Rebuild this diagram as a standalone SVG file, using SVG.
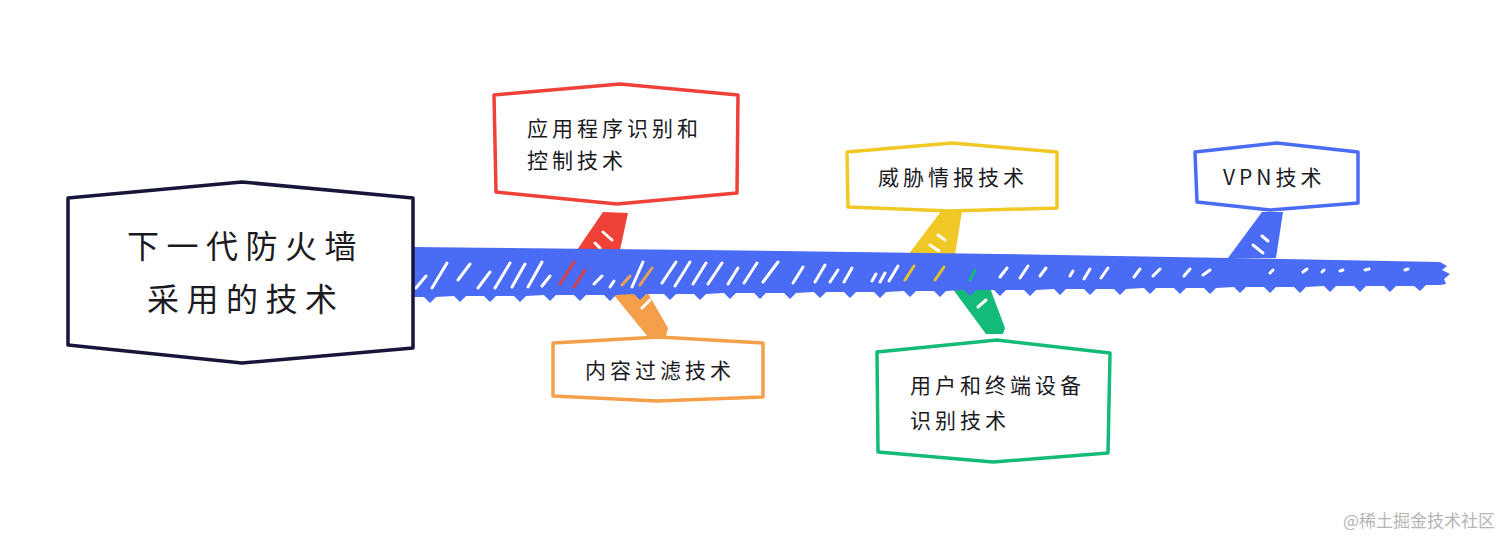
<svg xmlns="http://www.w3.org/2000/svg" width="1512" height="547" viewBox="0 0 1512 547">
<style>
.box{fill:#ffffff;stroke-width:3.5;stroke-linejoin:round;stroke-linecap:round}
.t{font-family:"Noto Sans CJK SC","Noto Sans",sans-serif;fill:#1b1b1f;font-size:21px;letter-spacing:4px}
.big{font-size:32px;letter-spacing:7.5px}
.h{stroke:#ffffff;stroke-width:3;stroke-linecap:round;fill:none}
.wm{font-family:"Noto Sans CJK SC","Noto Sans",sans-serif;fill:#b5b5b5;font-size:17px}
</style>
<rect width="1512" height="547" fill="#ffffff"/>
<g id="connectors">
  <polygon points="603,212 628,213 620,250 590,290 550,290 577,250" fill="#ef4137"/>
  <polygon points="608,288 645,288 668,328 666,336 648,337" fill="#f4a04b"/>
  <polygon points="942,210 962,211 955,255 930,290 895,290 908,255" fill="#f1c927"/>
  <polygon points="952,288 990,288 1005,328 1003,334 986,334" fill="#14bb78"/>
  <polygon points="1262,212 1283,212 1276,258 1228,258" fill="#4a6cf4"/>
  <g class="h" stroke-width="2.5">
    <path d="M603,232 L612,240"/><path d="M595,243 L600,248"/>
    <path d="M642,308 L650,300"/>
    <path d="M938,235 L945,240"/><path d="M930,245 L939,251"/>
    <path d="M978,307 L986,300"/>
    <path d="M1262,236 L1268,241"/><path d="M1253,245 L1263,253"/>
  </g>
  <path id="bar" fill="#4a6cf4" d="M410,247 L700,250 L1000,254 L1230,258 L1440,262 L1447,266 L1442,270 L1450,274 L1444,279 L1446,284 L1440,285
  L1426,285 L1420,291 L1414,286 L1396,286 L1390,292 L1384,286 L1366,286 L1360,292 L1354,286 L1336,286 L1330,292 L1324,286
  L1306,287 L1300,293 L1294,287 L1276,287 L1270,293 L1264,287 L1246,287 L1240,293 L1234,287 L1216,288 L1210,294 L1204,288
  L1186,288 L1180,294 L1174,288 L1156,288 L1150,294 L1144,288 L1126,289 L1120,295 L1114,289 L1096,289 L1090,295 L1084,289
  L1066,289 L1060,295 L1054,289 L1036,290 L1030,296 L1024,290 L1006,290 L1000,296 L994,290 L976,290 L970,296 L964,290
  L946,291 L940,297 L934,291 L916,291 L910,297 L904,291 L886,292 L880,298 L874,292 L856,292 L850,298 L844,292
  L826,292 L820,298 L814,292 L796,293 L790,299 L784,293 L766,293 L760,299 L754,293 L736,293 L730,299 L724,293
  L706,294 L700,300 L694,294 L676,294 L670,300 L664,294 L646,294 L640,300 L634,294 L616,295 L610,301 L604,295
  L586,295 L580,301 L574,295 L556,295 L550,301 L544,295 L526,296 L520,302 L514,296 L496,296 L490,302 L484,296
  L466,296 L460,302 L454,296 L436,297 L430,303 L424,297 L410,297 Z"/>
  <g class="h">
    <path d="M416,288 L426,276"/><path d="M432,288 L447,263"/><path d="M458,280 L470,264"/><path d="M478,288 L490,272"/>
    <path d="M495,288 L510,263"/><path d="M512,287 L525,264"/><path d="M528,287 L542,262"/><path d="M542,286 L550,276"/>
    <path d="M594,284 L602,276"/><path d="M610,287 L614,281"/><path d="M632,287 L643,262"/>
    <path d="M662,283 L676,262"/><path d="M675,286 L690,262"/><path d="M693,284 L706,263"/><path d="M708,284 L722,263"/>
    <path d="M728,284 L738,268"/><path d="M744,283 L757,263"/><path d="M763,282 L778,262"/><path d="M793,283 L803,267"/>
    <path d="M815,282 L825,265"/><path d="M830,282 L838,270"/><path d="M844,282 L852,268"/><path d="M872,281 L876,274"/>
    <path d="M880,282 L885,273"/><path d="M889,281 L898,266"/><path d="M1000,277 L1007,268"/><path d="M1020,278 L1028,266"/>
    <path d="M1040,276 L1046,268"/><path d="M1070,276 L1073,271"/><path d="M1084,279 L1090,269"/><path d="M1101,278 L1108,268"/>
    <path d="M1134,277 L1140,269"/><path d="M1153,276 L1160,269"/><path d="M1184,276 L1190,269"/><path d="M1203,275 L1210,270"/>
    <path d="M1270,273 L1273,270"/><path d="M1303,272 L1307,269"/><path d="M1322,272 L1324,270"/><path d="M1340,271 L1343,270"/><path d="M1365,270 L1369,269"/><path d="M1405,270 L1408,269"/>
  </g>
  <g fill="none" stroke-width="3" stroke-linecap="round">
    <path d="M560,284 L574,262" stroke="#d6404a"/><path d="M574,287 L585,270" stroke="#d6404a"/>
    <path d="M622,285 L630,276" stroke="#f0a050"/><path d="M640,285 L652,268" stroke="#f0a050"/>
    <path d="M905,280 L914,266" stroke="#e7c12d"/><path d="M935,280 L944,267" stroke="#e7c12d"/>
    <path d="M970,280 L975,270" stroke="#14b87a"/>
  </g>
</g>
<g id="main">
  <path class="box" stroke="#17163a" stroke-width="4.5" d="M68,198 L242,182 L413,198 L413,348 L242,363 L68,345 Z"/>
  <text class="t big" x="127" y="258">下一代防火墙</text>
  <text class="t big" x="147" y="311">采用的技术</text>
</g>
<g id="app">
  <path class="box" stroke="#ef4137" d="M494,95 L620,84 L738,95 L737,193 L617,204 L496,192 Z"/>
  <text class="t" x="527" y="136">应用程序识别和</text>
  <text class="t" x="527" y="168">控制技术</text>
</g>
<g id="content">
  <path class="box" stroke="#f4a04b" d="M553,343 L659,337 L763,343 L763,397 L657,401 L553,396 Z"/>
  <text class="t" x="585" y="378">内容过滤技术</text>
</g>
<g id="threat">
  <path class="box" stroke="#f1c927" d="M847,152 L952,143 L1057,152 L1057,208 L950,211 L848,207 Z"/>
  <text class="t" x="878" y="185">威胁情报技术</text>
</g>
<g id="vpn">
  <path class="box" stroke="#4a6cf4" d="M1195,152 L1277,143 L1358,152 L1358,203 L1270,210 L1197,202 Z"/>
  <text class="t" x="1223" y="185">VPN技术</text>
</g>
<g id="user">
  <path class="box" stroke="#14bb78" d="M877,352 L997,340 L1110,353 L1108,453 L993,462 L878,452 Z"/>
  <text class="t" x="910" y="393">用户和终端设备</text>
  <text class="t" x="910" y="428">识别技术</text>
</g>
<text class="wm" x="1495" y="527" text-anchor="end">@稀土掘金技术社区</text>
</svg>
